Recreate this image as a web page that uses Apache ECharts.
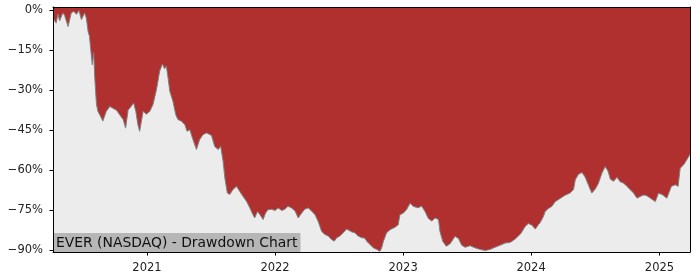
<!DOCTYPE html>
<html>
<head>
<meta charset="utf-8">
<script src="https://cdn.jsdelivr.net/npm/echarts@6/dist/echarts.min.js"></script>
<style>
html,body{margin:0;padding:0;background:#fff;}
#chart{width:700px;height:280px;}
</style>
</head>
<body>
<div id="chart"></div>
<script>
const titleText = 'EVER (NASDAQ) - Drawdown Chart';
const yTicks = [0, -15, -30, -45, -60, -75, -90];
const yearTicks = [2021, 2022, 2023, 2024, 2025];
const xStart = '2020-04-08';
const xEnd = '2025-03-29';
const dates = [
'2020-04-08','2020-04-10','2020-04-17','2020-04-22','2020-04-27','2020-05-06','2020-05-11','2020-05-21','2020-05-30','2020-06-06',
'2020-06-14','2020-06-21','2020-06-28','2020-07-07','2020-07-12','2020-07-17','2020-07-21','2020-07-26','2020-07-29','2020-08-02',
'2020-08-05','2020-08-10','2020-08-14','2020-08-24','2020-08-28','2020-09-07','2020-09-17','2020-09-26','2020-10-06','2020-10-15',
'2020-10-25','2020-11-01','2020-11-08','2020-11-17','2020-11-24','2020-11-30','2020-12-06','2020-12-11','2020-12-21','2020-12-30',
'2021-01-09','2021-01-18','2021-01-28','2021-02-06','2021-02-14','2021-02-20','2021-02-25','2021-03-02','2021-03-07','2021-03-16',
'2021-03-24','2021-03-30','2021-04-09','2021-04-19','2021-04-25','2021-05-03','2021-05-12','2021-05-22','2021-05-31','2021-06-10',
'2021-06-20','2021-06-24','2021-07-04','2021-07-13','2021-07-23','2021-07-30','2021-08-06','2021-08-11','2021-08-18','2021-08-25',
'2021-09-03','2021-09-13','2021-09-23','2021-10-02','2021-10-12','2021-10-21','2021-10-30','2021-11-04','2021-11-12','2021-11-19',
'2021-11-28','2021-12-05','2021-12-12','2021-12-22','2022-01-01','2022-01-10','2022-01-20','2022-01-29','2022-02-07','2022-02-17',
'2022-02-27','2022-03-08','2022-03-18','2022-03-27','2022-04-06','2022-04-15','2022-04-25','2022-05-04','2022-05-14','2022-05-23',
'2022-06-02','2022-06-11','2022-06-19','2022-06-26','2022-07-05','2022-07-14','2022-07-24','2022-07-29','2022-08-07','2022-08-17',
'2022-08-26','2022-09-05','2022-09-14','2022-09-19','2022-09-29','2022-10-08','2022-10-18','2022-10-27','2022-11-01','2022-11-06',
'2022-11-15','2022-11-25','2022-12-09','2022-12-18','2022-12-23','2023-01-02','2023-01-11','2023-01-21','2023-01-30','2023-02-13',
'2023-02-23','2023-03-05','2023-03-14','2023-03-24','2023-04-02','2023-04-12','2023-04-16','2023-04-24','2023-05-04','2023-05-15',
'2023-05-29','2023-06-08','2023-06-17','2023-06-27','2023-07-11','2023-07-25','2023-08-09','2023-08-23','2023-09-06','2023-09-20',
'2023-10-05','2023-10-19','2023-11-02','2023-11-16','2023-12-03','2023-12-15','2023-12-24','2024-01-03','2024-01-13','2024-01-22',
'2024-01-27','2024-02-05','2024-02-10','2024-02-19','2024-02-29','2024-03-10','2024-03-24','2024-04-07','2024-04-21','2024-05-01',
'2024-05-06','2024-05-15','2024-05-25','2024-06-03','2024-06-13','2024-06-22','2024-07-02','2024-07-11','2024-07-21','2024-07-30',
'2024-08-07','2024-08-14','2024-08-23','2024-09-02','2024-09-11','2024-09-21','2024-09-30','2024-10-10','2024-10-19','2024-10-29',
'2024-11-07','2024-11-17','2024-11-26','2024-12-06','2024-12-20','2024-12-29','2025-01-08','2025-01-22','2025-02-04','2025-02-15',
'2025-02-23','2025-03-01','2025-03-11','2025-03-20','2025-03-29'
];
const drawdown = [
-3.0,-3.6,-4.9,-1.5,-4.0,-1.1,-2.0,-6.2,-1.1,-0.5,
-1.6,-0.2,-3.6,-1.1,-3.0,-8.0,-9.9,-16.7,-20.5,-16.0,
-25.4,-35.4,-37.9,-40.4,-41.6,-37.9,-36.1,-36.8,-37.5,-39.2,
-41.0,-44.2,-37.5,-36.0,-34.8,-37.9,-42.9,-45.4,-37.9,-39.0,
-37.9,-35.4,-29.8,-22.9,-20.2,-22.0,-21.0,-25.4,-30.4,-34.2,
-39.2,-41.0,-41.6,-42.9,-45.4,-44.8,-48.5,-52.2,-48.5,-46.6,
-46.0,-45.4,-47.0,-51.1,-52.2,-51.0,-56.7,-62.9,-68.5,-69.0,
-67.2,-66.0,-68.0,-69.8,-71.7,-74.0,-76.6,-77.8,-75.4,-76.6,
-78.4,-76.0,-74.7,-74.6,-75.0,-74.1,-75.0,-74.6,-73.4,-74.1,
-75.2,-77.8,-76.0,-74.5,-74.1,-75.2,-76.6,-79.1,-82.9,-84.0,
-84.6,-85.9,-86.5,-85.2,-84.6,-83.4,-82.0,-81.3,-83.0,-83.4,
-84.6,-85.2,-85.4,-86.5,-87.8,-89.0,-89.6,-90.3,-89.0,-86.5,
-83.4,-82.2,-81.3,-80.4,-76.6,-76.0,-74.7,-72.3,-73.5,-74.0,
-73.4,-75.5,-78.0,-79.0,-77.8,-78.4,-82.8,-86.5,-88.4,-87.5,
-84.7,-85.5,-88.0,-88.8,-88.2,-89.0,-89.6,-90.0,-89.6,-88.8,
-88.0,-87.2,-87.0,-85.8,-83.6,-81.0,-79.9,-80.5,-82.0,-80.3,
-79.5,-77.3,-75.4,-74.3,-73.5,-71.7,-70.5,-69.3,-68.5,-67.2,
-63.5,-61.5,-60.8,-62.5,-65.7,-68.5,-67.0,-64.8,-61.0,-58.6,
-60.2,-63.3,-64.1,-62.6,-64.3,-64.8,-66.0,-67.3,-68.5,-70.4,
-69.8,-69.2,-69.5,-70.4,-71.7,-68.6,-69.0,-70.4,-66.0,-65.4,
-66.0,-59.2,-57.9,-56.0,-54.0
];

const toTime = s => new Date(s + 'T00:00:00').getTime();
const chart = echarts.init(document.getElementById('chart'), null, {renderer: 'canvas'});
const seriesData = dates.map((d, i) => [toTime(d), drawdown[i]]);
const yearValues = yearTicks.map(y => new Date(y, 0, 1).getTime());
const xMin = toTime(xStart), xMax = toTime(xEnd);
const font = 'DejaVu Sans';
const axisLine = {show: true, onZero: false, lineStyle: {color: '#000', width: 1}};

chart.setOption({
  animation: false,
  backgroundColor: '#ffffff',
  title: {
    text: titleText,
    left: 54, top: 233,
    padding: [2, 3, 1, 2],
    backgroundColor: '#b6b6b6',
    textStyle: {fontFamily: font, fontSize: 13.9, fontWeight: 'normal', color: '#111', lineHeight: 16}
  },
  grid: {left: 53, right: 10, top: 7, bottom: 28, show: true, backgroundColor: '#ececec', borderWidth: 0},
  xAxis: [{
    type: 'value', min: xMin, max: xMax, z: 10,
    axisLine: axisLine,
    axisTick: {show: true, length: 3.5, lineStyle: {color: '#000'}, customValues: yearValues},
    axisLabel: {customValues: yearValues, fontFamily: font, fontSize: 11.5, color: '#222', margin: 10,
      formatter: v => String(new Date(v).getFullYear())},
    splitLine: {show: false}
  }, {
    type: 'value', min: xMin, max: xMax, position: 'top', z: 10,
    axisLine: axisLine, axisTick: {show: false}, axisLabel: {show: false}, splitLine: {show: false}
  }],
  yAxis: [{
    type: 'value', min: -90.56, max: 1.12, z: 10,
    axisLine: axisLine,
    axisTick: {show: true, length: 3.5, lineStyle: {color: '#000'}, customValues: yTicks},
    axisLabel: {customValues: yTicks, fontFamily: font, fontSize: 11.5, color: '#222', margin: 10,
      formatter: v => (v < 0 ? '\u2212' : '') + Math.abs(v) + '%'},
    splitLine: {show: false}
  }, {
    type: 'value', min: -90.56, max: 1.12, position: 'right', z: 10,
    axisLine: axisLine, axisTick: {show: false}, axisLabel: {show: false}, splitLine: {show: false}
  }],
  series: [{
    type: 'line',
    data: seriesData,
    showSymbol: false,
    symbol: 'none',
    lineStyle: {color: '#808080', width: 1},
    areaStyle: {color: '#b03030', opacity: 1, origin: 'end'},
    z: 2
  }]
});
</script>
</body>
</html>
